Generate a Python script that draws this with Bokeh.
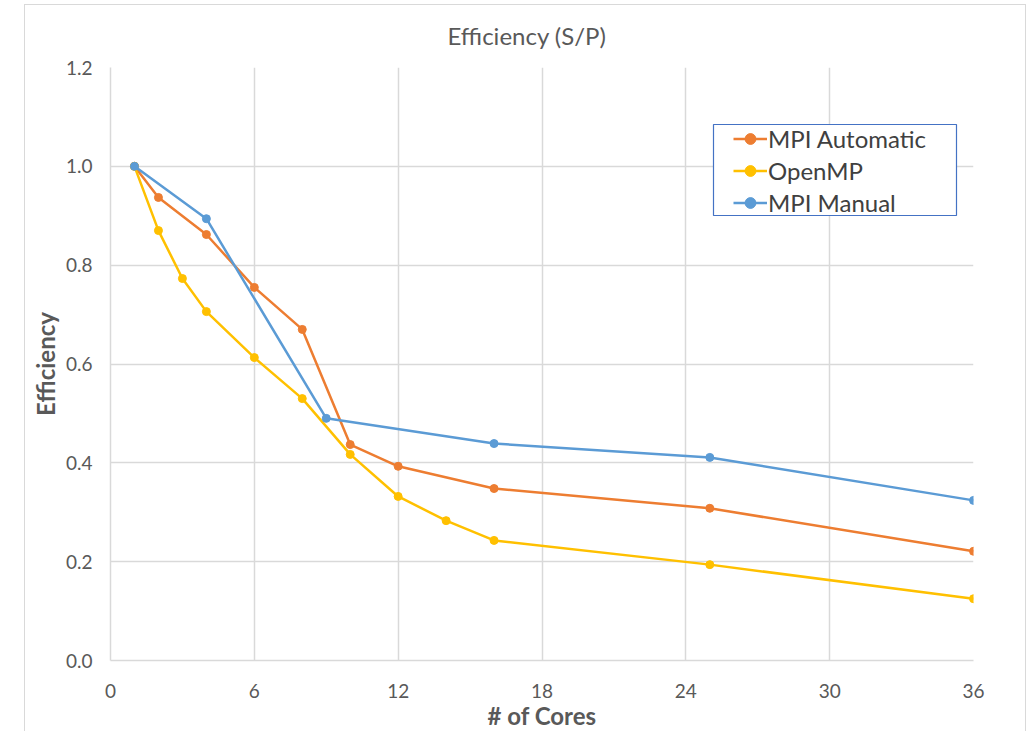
from bokeh.plotting import figure
from bokeh.models import Legend, LegendItem, FixedTicker, NumeralTickFormatter, Range1d, BoxAnnotation
from bokeh.embed import file_html
from bokeh.resources import INLINE

# Efficiency (speedup / cores) per implementation
cores_auto = [1, 2, 4, 6, 8, 10, 12, 16, 25, 36]
eff_auto = [1.0, 0.937, 0.862, 0.755, 0.670, 0.437, 0.393, 0.348, 0.308, 0.221]

cores_omp = [1, 2, 3, 4, 6, 8, 10, 12, 14, 16, 25, 36]
eff_omp = [1.0, 0.870, 0.773, 0.706, 0.613, 0.530, 0.417, 0.332, 0.283, 0.243, 0.194, 0.125]

cores_manual = [1, 4, 9, 16, 25, 36]
eff_manual = [1.0, 0.894, 0.490, 0.439, 0.411, 0.324]

x_ticks = [0, 6, 12, 18, 24, 30, 36]
y_ticks = [0.0, 0.2, 0.4, 0.6, 0.8, 1.0, 1.2]

FONT = "Lato"
TEXT = "#595959"
GRID = "#d9d9d9"

p = figure(width=1002, height=740, output_backend="svg", toolbar_location=None,
           x_range=Range1d(0, 36), y_range=Range1d(0, 1.2),
           min_border_left=85, min_border_right=54, min_border_top=62, min_border_bottom=85,
           title="Efficiency (S/P)")
p.styles = {"margin-left": "24px", "margin-top": "4px", "border": "1px solid #d9d9d9"}
p.outline_line_color = None

# title centred over the whole chart area rather than the plot frame
p.title.align = "left"
p.title.vertical_align = "top"
p.title.text_font = FONT
p.title.text_font_size = "24px"
p.title.text_font_style = "normal"
p.title.text_color = TEXT
p.title.offset = 337
p.title.standoff = 31

p.xaxis.ticker = FixedTicker(ticks=x_ticks)
p.yaxis.ticker = FixedTicker(ticks=y_ticks)
p.yaxis.formatter = NumeralTickFormatter(format="0.0")
for ax in (p.xaxis, p.yaxis):
    ax.axis_line_color = GRID
    ax.axis_line_width = 1.5
    ax.major_tick_line_color = None
    ax.minor_tick_line_color = None
    ax.major_tick_out = 0
    ax.major_tick_in = 0
    ax.minor_tick_out = 0
    ax.minor_tick_in = 0
    ax.major_label_text_font = FONT
    ax.major_label_text_font_size = "19px"
    ax.major_label_text_color = TEXT
    ax.axis_label_text_font = FONT
    ax.axis_label_text_font_size = "24px"
    ax.axis_label_text_font_style = "bold"
    ax.axis_label_text_color = TEXT
p.xaxis.axis_label = "# of Cores"
p.yaxis.axis_label = "Efficiency"
p.xaxis.major_label_standoff = 23
p.yaxis.major_label_standoff = 18
p.xaxis.axis_label_standoff = 0
p.yaxis.axis_label_standoff = 3

p.xgrid.grid_line_color = GRID
p.ygrid.grid_line_color = GRID
p.xgrid.grid_line_width = 1.5
p.ygrid.grid_line_width = 1.5

series = [
    ("MPI Automatic", cores_auto, eff_auto, "#ED7D31"),
    ("OpenMP", cores_omp, eff_omp, "#FFC000"),
    ("MPI Manual", cores_manual, eff_manual, "#5B9BD5"),
]

# legend frame (white box with blue border), drawn in canvas pixels
frame_box = BoxAnnotation(left=687, right=930, top=118, bottom=209,
                          left_units="canvas", right_units="canvas",
                          top_units="canvas", bottom_units="canvas",
                          fill_color="white", fill_alpha=1.0,
                          line_color="#4472C4", line_alpha=1.0, line_width=1.2,
                          level="overlay")
p.add_layout(frame_box)

items = []
for name, xs, ys, color in series:
    ln = p.line(xs, ys, line_color=color, line_width=2.5)
    sc = p.scatter(xs, ys, size=8, fill_color=color, line_color=color)
    items.append(LegendItem(label=name, renderers=[ln, sc]))

legend = Legend(items=items, location=(623, 443))
legend.border_line_color = None
legend.background_fill_color = None
legend.background_fill_alpha = 0
legend.label_text_font = FONT
legend.label_text_font_size = "24px"
legend.label_text_color = "#404040"
legend.glyph_width = 34
legend.glyph_height = 27
legend.label_height = 27
legend.spacing = 3
legend.padding = 4
legend.margin = 0
legend.label_standoff = 1
p.add_layout(legend, "center")

open("out.html", "w").write(file_html(p, INLINE))
